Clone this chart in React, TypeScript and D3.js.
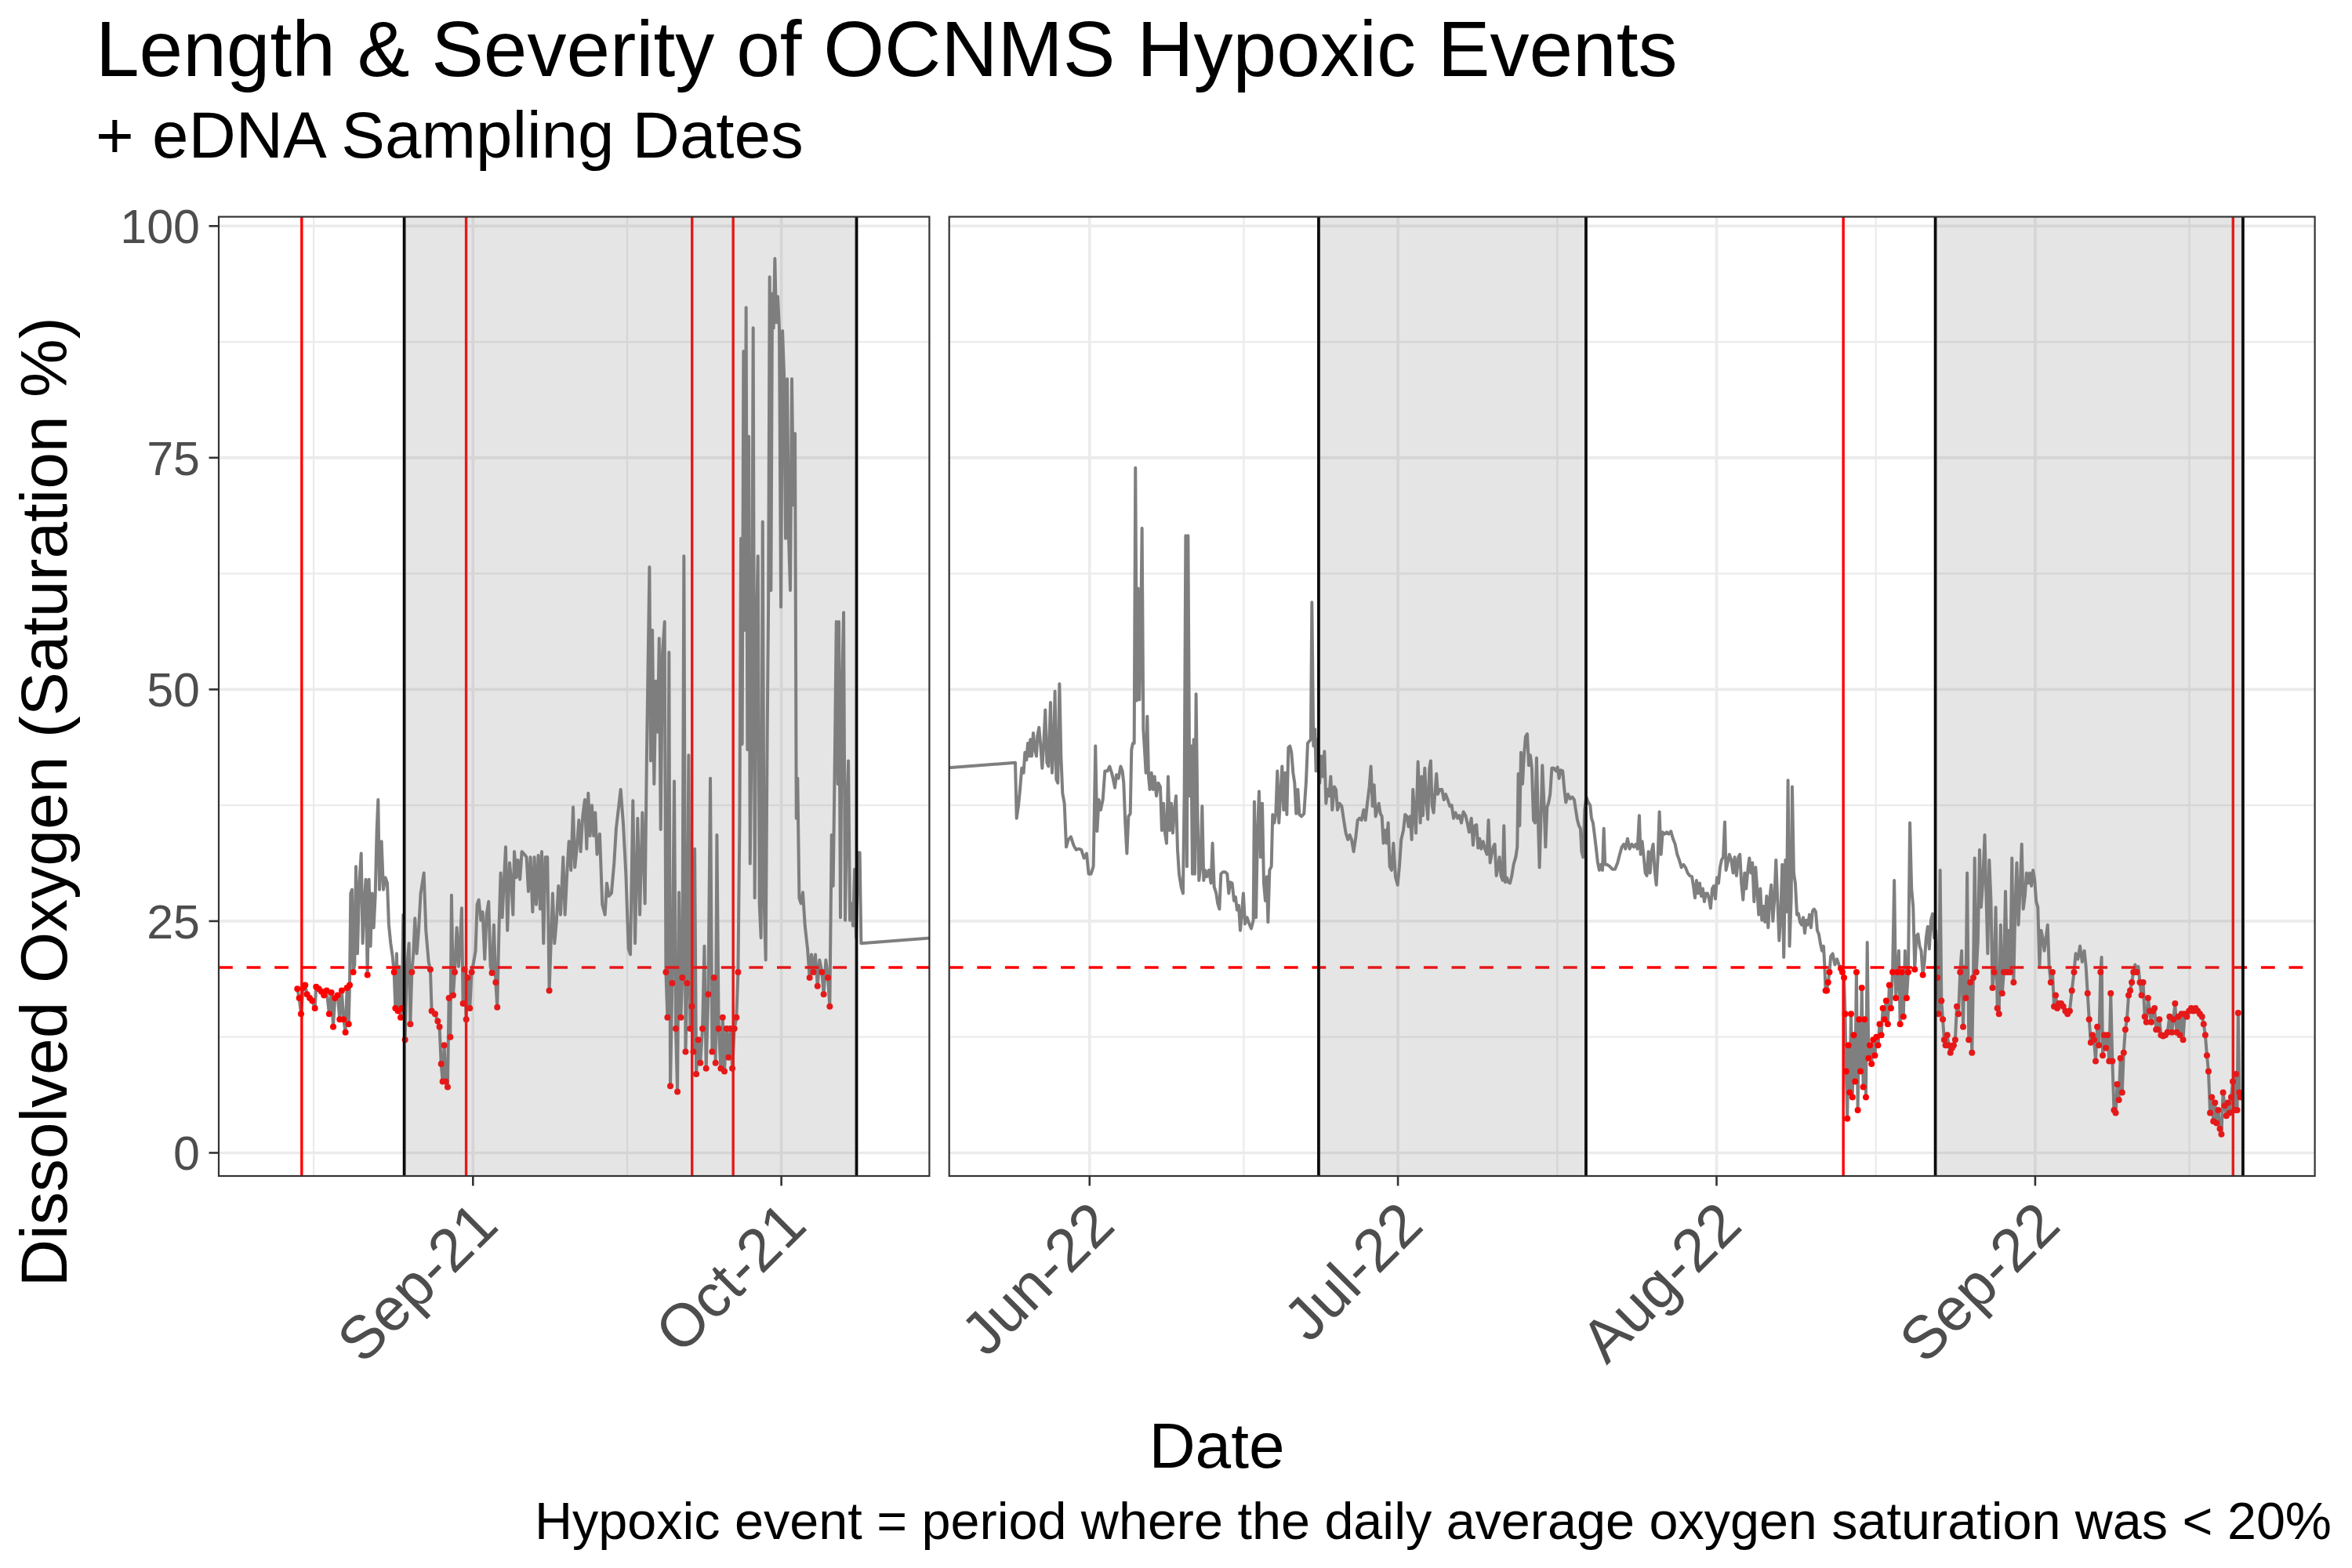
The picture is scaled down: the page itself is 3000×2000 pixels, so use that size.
import React, { FC, useEffect, useRef } from "react"
import { line, scaleLinear, scaleUtc, select, utcFormat, utcMonth } from "d3"

const DAY = 86400000
const origin2021 = Date.UTC(2021, 7, 1)
const origin2022 = Date.UTC(2022, 5, 1)

// dissolved oxygen, pairs of [days since 2021-08-01, saturation %]
const oxygen2021: number[] = [
  13.91, 17.7, 14.09, 16.7, 14.27, 15.0, 14.47, 17.8, 14.67, 18.1, 14.85, 17.1, 15.11, 16.7, 15.36, 16.4,
  15.62, 15.6, 15.74, 17.9, 16.0, 17.7, 16.25, 17.4, 16.5, 17.0, 16.76, 17.5, 17.01, 15.0, 17.22, 17.3,
  17.4, 13.6, 17.57, 16.7, 17.83, 17.0, 18.03, 14.4, 18.23, 17.5, 18.41, 14.4, 18.59, 13.0, 18.74, 17.8,
  18.9, 13.9, 19.0, 18.1, 19.1, 28.0, 19.23, 28.4, 19.35, 19.5, 19.48, 20.3, 19.61, 30.9, 19.76, 21.5,
  19.94, 29.1, 20.12, 32.3, 20.27, 22.6, 20.42, 26.8, 20.57, 29.5, 20.73, 19.2, 20.88, 29.5, 21.03, 22.3,
  21.18, 28.0, 21.34, 24.3, 21.49, 27.7, 21.64, 34.7, 21.77, 38.1, 21.9, 28.4, 22.1, 33.6, 22.28, 28.4,
  22.48, 29.7, 22.66, 29.1, 22.81, 24.6, 22.99, 22.6, 23.17, 21.2, 23.32, 19.5, 23.45, 15.6, 23.57, 21.5,
  23.7, 15.3, 23.83, 20.1, 23.96, 14.6, 24.08, 15.6, 24.21, 25.7, 24.39, 12.2, 24.57, 20.1, 24.77, 22.6,
  24.9, 13.9, 25.05, 19.5, 25.2, 21.5, 25.35, 25.3, 25.53, 21.5, 25.71, 24.0, 25.91, 28.0, 26.07, 29.1,
  26.22, 30.2, 26.42, 24.0, 26.68, 20.6, 26.85, 19.8, 26.98, 15.3, 27.31, 15.0, 27.57, 14.2, 27.74, 13.6,
  27.9, 9.6, 28.05, 7.7, 28.2, 11.6, 28.35, 7.7, 28.53, 7.1, 28.66, 16.7, 28.79, 12.5, 28.91, 27.8,
  29.07, 17.0, 29.22, 19.5, 29.42, 24.3, 29.6, 20.1, 29.78, 23.5, 29.9, 26.4, 30.03, 16.1, 30.18, 19.8,
  30.34, 14.4, 30.49, 18.9, 30.69, 15.6, 30.87, 19.5, 31.05, 20.5, 31.25, 21.8, 31.4, 26.8, 31.56, 27.3,
  31.76, 25.1, 31.94, 26.0, 32.14, 20.9, 32.32, 25.7, 32.52, 27.1, 32.7, 20.1, 32.85, 19.4, 33.03, 24.6,
  33.21, 18.4, 33.36, 15.7, 33.54, 24.6, 33.69, 30.2, 33.85, 25.4, 34.0, 29.1, 34.18, 33.0, 34.35, 24.0,
  34.56, 31.3, 34.74, 29.1, 34.89, 25.7, 35.02, 32.5, 35.22, 29.7, 35.37, 31.6, 35.57, 29.5, 35.75, 32.5,
  36.01, 32.2, 36.21, 31.9, 36.39, 28.2, 36.59, 31.9, 36.8, 26.0, 36.97, 31.9, 37.15, 26.8, 37.35, 32.1,
  37.53, 26.3, 37.69, 32.5, 37.86, 22.6, 38.04, 31.9, 38.24, 31.9, 38.42, 17.5, 38.57, 22.3, 38.75, 28.0,
  38.93, 22.6, 39.13, 25.1, 39.31, 28.8, 39.52, 25.7, 39.77, 31.9, 39.95, 25.7, 40.15, 30.2, 40.33, 33.6,
  40.53, 30.5, 40.74, 37.3, 40.91, 30.8, 41.09, 32.8, 41.3, 35.9, 41.47, 32.5, 41.68, 36.4, 41.88, 38.1,
  42.06, 32.8, 42.21, 38.8, 42.39, 34.2, 42.57, 37.5, 42.74, 34.2, 42.9, 36.7, 43.07, 32.2, 43.33, 34.4,
  43.58, 26.8, 43.84, 25.7, 44.02, 29.1, 44.22, 27.7, 44.47, 28.0, 44.73, 31.3, 44.93, 35.0, 45.37, 39.2,
  45.62, 35.5, 45.88, 30.0, 46.13, 22.0, 46.31, 21.4, 46.56, 38.0, 46.77, 22.6, 47.02, 36.1, 47.23, 25.7,
  47.48, 36.7, 47.73, 26.9, 47.91, 43.5, 48.17, 63.2, 48.29, 42.3, 48.45, 56.4, 48.62, 39.8, 48.8, 50.9,
  48.98, 45.4, 49.11, 55.5, 49.26, 34.9, 49.44, 54.0, 49.64, 57.3, 49.77, 19.5, 49.92, 14.6, 50.07, 54.0,
  50.2, 7.2, 50.38, 18.3, 50.58, 40.1, 50.73, 13.4, 50.89, 6.6, 51.04, 28.1, 51.22, 14.6, 51.37, 18.9,
  51.52, 64.4, 51.68, 10.9, 51.83, 18.3, 51.98, 42.9, 52.13, 13.4, 52.29, 15.8, 52.44, 10.9, 52.57, 32.8,
  52.72, 8.5, 52.92, 12.2, 53.12, 9.7, 53.33, 13.4, 53.51, 22.3, 53.68, 9.1, 53.89, 17.1, 54.09, 40.4,
  54.27, 10.9, 54.45, 18.9, 54.6, 9.7, 54.73, 34.3, 54.9, 13.4, 55.11, 9.1, 55.29, 14.6, 55.46, 8.8,
  55.67, 13.4, 55.87, 10.3, 56.05, 13.4, 56.23, 9.1, 56.43, 13.4, 56.63, 14.6, 56.79, 19.5, 56.94, 35.5,
  57.07, 66.3, 57.19, 44.1, 57.32, 86.5, 57.45, 56.4, 57.57, 91.2, 57.7, 43.5, 57.83, 77.3, 57.96, 31.2,
  58.11, 45.4, 58.26, 89.0, 58.41, 27.5, 58.57, 56.4, 58.72, 64.4, 58.87, 26.9, 59.02, 23.2, 59.18, 68.1,
  59.33, 26.9, 59.48, 20.8, 59.63, 45.4, 59.74, 58.9, 59.86, 94.5, 59.99, 60.7, 60.12, 92.7, 60.24, 89.0,
  60.37, 96.5, 60.5, 89.6, 60.65, 92.4, 60.8, 89.0, 60.96, 58.9, 61.11, 88.7, 61.26, 84.1, 61.41, 66.3,
  61.57, 83.5, 61.72, 66.3, 61.87, 60.7, 62.02, 83.5, 62.18, 69.9, 62.33, 77.6, 62.46, 36.1, 62.58, 40.4,
  62.74, 27.5, 62.91, 26.9, 63.09, 28.1, 63.3, 24.5, 63.55, 22.0, 63.75, 18.9, 63.93, 21.4, 64.11, 19.5,
  64.31, 21.4, 64.52, 18.0, 64.72, 20.8, 64.95, 19.5, 65.12, 17.1, 65.33, 20.8, 65.53, 18.9, 65.71, 15.8,
  65.89, 34.3, 66.04, 28.8, 66.22, 44.1, 66.35, 57.3, 66.5, 39.8, 66.6, 57.3, 66.75, 25.4, 66.9, 50.3,
  67.06, 58.3, 67.21, 25.1, 67.36, 36.1, 67.52, 42.3, 67.67, 25.1, 67.82, 26.9, 67.97, 24.5, 68.13, 30.6,
  68.28, 23.2, 68.48, 32.4, 68.63, 32.4, 68.76, 22.6,
]

// dissolved oxygen, pairs of [days since 2022-06-01, saturation %]
const oxygen2022: number[] = [
  -7.23, 42.1, -7.1, 36.1, -6.93, 37.4, -6.77, 39.2, -6.6, 41.5, -6.42, 41.0, -6.29, 43.2, -6.14, 42.4,
  -6.01, 44.2, -5.88, 42.8, -5.76, 44.6, -5.63, 42.8, -5.48, 45.3, -5.32, 43.5, -5.17, 42.8, -5.07, 45.0,
  -4.92, 45.9, -4.76, 43.9, -4.61, 41.5, -4.46, 44.2, -4.31, 47.8, -4.15, 42.1, -4.0, 41.7, -3.8, 48.6,
  -3.65, 41.0, -3.49, 43.9, -3.37, 49.8, -3.24, 40.3, -3.09, 39.9, -2.93, 50.6, -2.78, 42.8, -2.63, 38.8,
  -2.45, 37.7, -2.27, 33.0, -2.07, 33.8, -1.82, 34.1, -1.56, 33.2, -1.31, 32.7, -1.05, 32.8, -0.8, 32.7,
  -0.54, 31.8, -0.29, 32.3, -0.09, 30.1, 0.14, 30.1, 0.37, 30.9, 0.57, 43.9, 0.73, 34.7, 0.9, 38.1,
  1.08, 37.0, 1.29, 38.1, 1.49, 41.2, 1.74, 41.2, 1.95, 41.7, 2.15, 41.0, 2.3, 40.3, 2.46, 39.4,
  2.61, 40.8, 2.81, 40.4, 3.02, 41.7, 3.19, 41.2, 3.32, 39.9, 3.47, 35.6, 3.63, 32.3, 3.78, 36.3,
  3.96, 36.6, 4.08, 43.5, 4.21, 44.2, 4.34, 44.2, 4.46, 73.9, 4.59, 48.8, 4.72, 60.9, 4.85, 48.9,
  4.97, 55.1, 5.1, 67.4, 5.23, 45.7, 5.35, 43.5, 5.48, 41.0, 5.61, 47.1, 5.74, 40.6, 5.86, 39.2,
  6.02, 41.0, 6.17, 39.2, 6.32, 40.6, 6.5, 38.5, 6.68, 39.9, 6.88, 39.5, 7.03, 34.8, 7.19, 37.7,
  7.34, 34.5, 7.49, 33.4, 7.64, 40.6, 7.8, 34.8, 7.95, 37.7, 8.1, 34.5, 8.25, 37.0, 8.41, 38.5,
  8.56, 32.7, 8.71, 30.1, 8.91, 28.7, 9.09, 28.0, 9.22, 38.8, 9.35, 66.6, 9.47, 30.9, 9.58, 66.6,
  9.73, 38.5, 9.88, 43.9, 10.01, 30.1, 10.13, 44.6, 10.24, 30.1, 10.36, 49.5, 10.49, 37.4, 10.64, 29.4,
  10.8, 30.9, 10.95, 37.4, 11.1, 29.4, 11.25, 30.5, 11.41, 29.8, 11.61, 30.5, 11.81, 29.1, 11.96, 33.4,
  12.12, 28.7, 12.32, 28.0, 12.47, 26.9, 12.63, 26.3, 12.78, 30.1, 12.98, 30.3, 13.19, 30.3, 13.39, 30.1,
  13.54, 28.0, 13.69, 29.2, 13.87, 29.1, 14.05, 27.2, 14.2, 27.6, 14.35, 26.2, 14.51, 26.7, 14.66, 24.0,
  14.81, 25.8, 14.96, 28.0, 15.12, 24.7, 15.32, 25.4, 15.53, 24.7, 15.73, 24.2, 15.93, 25.1, 16.03, 37.9,
  16.19, 25.4, 16.34, 34.5, 16.49, 39.0, 16.64, 31.9, 16.8, 37.7, 16.95, 29.1, 17.1, 27.2, 17.25, 29.8,
  17.36, 24.9, 17.51, 30.5, 17.69, 30.9, 17.81, 36.5, 17.97, 35.6, 18.12, 36.6, 18.27, 41.2, 18.42, 35.6,
  18.58, 38.8, 18.73, 41.7, 18.88, 37.0, 19.03, 41.0, 19.19, 36.5, 19.34, 43.7, 19.49, 43.9, 19.64, 43.2,
  19.8, 41.0, 19.95, 39.9, 20.1, 36.6, 20.26, 39.2, 20.41, 36.5, 20.61, 36.3, 20.86, 36.6, 21.07, 40.1,
  21.22, 44.2, 21.37, 44.4, 21.52, 44.6, 21.63, 59.4, 21.78, 43.9, 21.93, 45.7, 22.03, 41.2, 22.19, 44.6,
  22.39, 39.9, 22.54, 42.8, 22.7, 40.6, 22.85, 43.3, 23.0, 37.7, 23.15, 39.2, 23.31, 38.5, 23.46, 40.6,
  23.61, 37.0, 23.81, 39.5, 23.97, 39.2, 24.12, 37.0, 24.32, 37.7, 24.53, 37.4, 24.73, 35.9, 24.93, 34.5,
  25.13, 33.8, 25.31, 34.3, 25.49, 33.8, 25.69, 32.5, 25.9, 34.1, 26.08, 35.9, 26.26, 36.1, 26.46, 35.9,
  26.66, 37.0, 26.84, 35.9, 27.02, 37.7, 27.22, 39.5, 27.37, 41.7, 27.53, 37.4, 27.68, 39.7, 27.83, 36.3,
  27.98, 37.0, 28.14, 37.7, 28.29, 36.6, 28.44, 36.3, 28.59, 33.4, 28.75, 34.8, 28.9, 33.4, 29.05, 35.6,
  29.2, 30.9, 29.38, 30.5, 29.56, 33.4, 29.76, 29.8, 29.97, 28.9, 30.14, 30.9, 30.32, 33.8, 30.53, 34.8,
  30.7, 36.5, 30.88, 36.3, 31.03, 35.2, 31.19, 36.3, 31.34, 33.8, 31.46, 39.2, 31.59, 37.0, 31.75, 34.5,
  31.95, 42.2, 32.18, 35.6, 32.3, 40.6, 32.43, 36.4, 32.61, 41.5, 32.76, 38.1, 32.91, 36.0, 33.07, 41.5,
  33.19, 42.3, 33.32, 37.5, 33.47, 36.7, 33.63, 39.2, 33.75, 40.9, 33.88, 38.7, 34.08, 39.2, 34.29, 39.2,
  34.47, 38.1, 34.64, 38.7, 34.85, 38.1, 35.05, 37.4, 35.23, 37.5, 35.41, 36.1, 35.61, 36.7, 35.81, 36.1,
  35.99, 36.4, 36.17, 35.6, 36.37, 36.8, 36.58, 36.4, 36.75, 35.6, 36.93, 34.6, 37.14, 36.1, 37.31, 33.2,
  37.47, 35.3, 37.64, 35.4, 37.8, 32.9, 37.95, 33.9, 38.1, 32.8, 38.28, 33.6, 38.46, 32.8, 38.66, 32.2,
  38.81, 35.9, 38.97, 31.3, 39.12, 32.2, 39.27, 33.0, 39.42, 33.3, 39.58, 29.9, 39.73, 30.8, 39.88, 31.9,
  40.03, 29.9, 40.19, 29.4, 40.31, 35.3, 40.44, 29.2, 40.59, 29.7, 40.75, 29.2, 40.9, 29.1, 41.08, 29.9,
  41.25, 31.1, 41.46, 31.9, 41.61, 33.0, 41.71, 40.9, 41.84, 35.3, 41.97, 43.2, 42.12, 39.8, 42.27, 42.9,
  42.42, 44.9, 42.58, 45.2, 42.73, 41.8, 42.88, 42.9, 43.03, 41.5, 43.19, 35.9, 43.34, 35.6, 43.49, 42.6,
  43.64, 35.9, 43.77, 30.8, 43.9, 35.6, 44.05, 41.8, 44.2, 38.1, 44.36, 33.0, 44.51, 37.3, 44.66, 37.8,
  44.81, 38.7, 44.97, 41.5, 45.17, 41.5, 45.37, 41.2, 45.53, 41.6, 45.68, 40.4, 45.83, 41.3, 46.03, 41.2,
  46.19, 39.2, 46.34, 37.8, 46.54, 38.7, 46.75, 38.2, 46.95, 38.4, 47.15, 38.1, 47.3, 37.0, 47.46, 35.9,
  47.61, 35.3, 47.76, 35.0, 47.87, 32.5, 48.02, 31.9, 48.17, 37.0, 48.32, 38.4, 48.53, 37.8, 48.7, 37.5,
  48.83, 36.1, 48.98, 35.6, 49.14, 34.2, 49.29, 32.8, 49.44, 31.3, 49.59, 30.5, 49.75, 31.1, 49.9, 30.5,
  50.03, 35.0, 50.15, 31.1, 50.36, 31.1, 50.61, 30.9, 50.86, 30.6, 51.12, 30.6, 51.37, 31.3, 51.58, 32.2,
  51.78, 33.0, 51.98, 33.3, 52.14, 32.8, 52.34, 33.9, 52.54, 32.8, 52.75, 33.3, 52.95, 33.0, 53.15, 33.3,
  53.31, 32.8, 53.48, 36.4, 53.61, 32.2, 53.76, 33.6, 53.92, 31.9, 54.07, 30.2, 54.22, 29.9, 54.37, 32.5,
  54.53, 30.2, 54.68, 32.5, 54.83, 33.3, 54.98, 30.5, 55.14, 28.9, 55.29, 31.9, 55.44, 36.8, 55.6, 32.2,
  55.75, 34.6, 55.95, 34.4, 56.15, 34.6, 56.36, 34.4, 56.56, 34.7, 56.76, 33.9, 56.97, 33.3, 57.17, 32.2,
  57.37, 31.6, 57.58, 30.8, 57.78, 31.1, 57.98, 30.8, 58.19, 30.2, 58.39, 29.9, 58.6, 29.8, 58.75, 28.8,
  58.9, 27.5, 59.05, 29.4, 59.21, 28.0, 59.36, 29.1, 59.51, 27.7, 59.66, 28.5, 59.81, 27.1, 59.97, 28.0,
  60.12, 28.0, 60.27, 27.4, 60.42, 26.4, 60.58, 28.5, 60.73, 28.8, 60.88, 27.4, 61.04, 29.7, 61.19, 29.1,
  61.34, 30.8, 61.49, 31.6, 61.65, 31.9, 61.8, 35.7, 61.92, 30.5, 62.08, 31.3, 62.25, 32.2, 62.43, 31.6,
  62.61, 30.2, 62.76, 31.9, 62.94, 29.9, 63.12, 31.9, 63.27, 32.2, 63.42, 29.1, 63.58, 27.3, 63.73, 30.2,
  63.88, 28.5, 64.04, 30.5, 64.19, 31.8, 64.34, 30.2, 64.49, 31.3, 64.65, 27.1, 64.8, 30.8, 64.95, 28.5,
  65.1, 25.7, 65.26, 28.5, 65.41, 25.1, 65.56, 26.6, 65.71, 24.9, 65.87, 27.7, 66.02, 24.3, 66.17, 27.4,
  66.32, 28.9, 66.48, 25.0, 66.63, 27.4, 66.78, 31.6, 66.93, 27.4, 67.09, 22.9, 67.24, 25.7, 67.39, 31.1,
  67.54, 21.1, 67.7, 31.6, 67.82, 26.0, 67.95, 40.2, 68.1, 22.3, 68.26, 27.4, 68.36, 39.5, 68.51, 30.2,
  68.66, 29.1, 68.82, 25.7, 68.97, 25.8, 69.12, 24.9, 69.27, 24.6, 69.43, 25.4, 69.58, 23.7, 69.73, 25.1,
  69.89, 24.6, 70.04, 25.7, 70.19, 24.3, 70.34, 26.1, 70.49, 26.3, 70.65, 26.0, 70.8, 24.0, 70.95, 23.6,
  71.1, 22.6, 71.26, 21.8, 71.41, 22.3, 71.51, 20.3, 71.61, 17.5, 71.72, 17.5, 71.85, 18.4, 71.98, 19.5,
  72.11, 21.2, 72.3, 21.5, 72.51, 20.3, 72.72, 20.9, 72.9, 20.3, 73.09, 19.9, 73.24, 19.5, 73.4, 18.9,
  73.51, 15.0, 73.61, 8.8, 73.72, 3.7, 73.82, 11.6, 73.95, 6.5, 74.08, 15.0, 74.22, 6.0, 74.35, 12.7,
  74.48, 7.7, 74.61, 19.5, 74.74, 4.6, 74.87, 14.4, 75.0, 8.8, 75.13, 17.8, 75.27, 7.1, 75.4, 14.4,
  75.53, 6.0, 75.66, 22.7, 75.79, 10.2, 75.92, 11.6, 76.08, 9.6, 76.24, 12.2, 76.4, 10.5, 76.55, 12.5,
  76.71, 11.6, 76.87, 13.9, 77.03, 12.7, 77.18, 15.6, 77.34, 14.4, 77.5, 16.4, 77.66, 13.9, 77.81, 18.1,
  77.97, 15.6, 78.13, 19.5, 78.29, 29.4, 78.44, 16.7, 78.6, 19.5, 78.73, 21.8, 78.86, 13.9, 79.02, 19.5,
  79.18, 14.7, 79.34, 21.8, 79.49, 16.7, 79.65, 19.5, 79.81, 35.6, 79.97, 28.5, 80.13, 26.5, 80.28, 19.8,
  80.44, 23.4, 80.6, 23.6, 80.76, 22.3, 80.91, 21.8, 81.07, 19.2, 81.23, 20.6, 81.39, 23.2, 81.54, 24.4,
  81.7, 22.0, 81.86, 25.1, 82.02, 25.8, 82.17, 23.2, 82.33, 24.0, 82.49, 18.9, 82.62, 15.0, 82.75, 30.5,
  82.88, 16.4, 83.01, 14.4, 83.15, 12.2, 83.28, 11.6, 83.44, 12.7, 83.59, 11.6, 83.75, 10.8, 83.91, 11.3,
  84.07, 11.6, 84.22, 12.2, 84.38, 15.8, 84.54, 15.0, 84.7, 19.5, 84.85, 21.8, 84.99, 13.6, 85.12, 20.1,
  85.25, 16.7, 85.38, 30.2, 85.54, 12.2, 85.69, 18.4, 85.85, 10.8, 85.98, 18.9, 86.11, 31.8, 86.27, 19.5,
  86.43, 22.9, 86.59, 32.7, 86.74, 26.5, 86.9, 29.1, 87.09, 34.3, 87.22, 28.5, 87.38, 21.5, 87.53, 31.6,
  87.69, 27.4, 87.85, 17.8, 88.01, 19.5, 88.16, 26.5, 88.32, 15.6, 88.48, 15.0, 88.64, 24.6, 88.79, 17.2,
  88.95, 19.5, 89.11, 28.2, 89.27, 19.5, 89.42, 24.0, 89.58, 19.5, 89.74, 31.8, 89.9, 18.4, 90.05, 26.3,
  90.21, 31.3, 90.37, 24.6, 90.53, 28.5, 90.69, 33.3, 90.84, 26.3, 91.0, 27.7, 91.16, 30.2, 91.32, 29.1,
  91.47, 30.2, 91.63, 28.8, 91.79, 30.5, 91.95, 29.4, 92.1, 27.1, 92.26, 26.5, 92.42, 20.1, 92.58, 24.0,
  92.73, 23.2, 92.89, 21.8, 93.05, 23.2, 93.21, 24.6, 93.36, 20.1, 93.52, 18.4, 93.68, 19.5, 93.84, 15.8,
  93.99, 17.0, 94.15, 15.6, 94.31, 16.1, 94.52, 16.1, 94.73, 15.8, 94.94, 15.3, 95.15, 15.0, 95.36, 15.3,
  95.57, 17.5, 95.78, 19.5, 95.94, 21.5, 96.15, 20.9, 96.36, 22.3, 96.57, 20.6, 96.78, 21.8, 96.94, 20.1,
  97.1, 17.2, 97.25, 14.4, 97.41, 11.9, 97.57, 12.7, 97.73, 12.2, 97.88, 9.9, 98.04, 13.6, 98.2, 11.6,
  98.36, 19.5, 98.46, 21.1, 98.57, 10.5, 98.72, 12.7, 98.88, 11.3, 99.04, 12.7, 99.2, 9.9, 99.35, 17.2,
  99.51, 9.9, 99.67, 4.6, 99.83, 4.3, 99.98, 7.4, 100.14, 5.7, 100.3, 10.2, 100.46, 6.5, 100.61, 10.8,
  100.77, 13.3, 100.93, 14.4, 101.09, 17.0, 101.24, 17.5, 101.4, 18.4, 101.56, 19.5, 101.72, 20.3, 101.87, 19.5,
  102.03, 20.1, 102.19, 18.4, 102.35, 17.0, 102.5, 18.4, 102.66, 14.7, 102.82, 14.1, 102.98, 16.7, 103.14, 15.3,
  103.29, 14.1, 103.45, 15.3, 103.61, 15.6, 103.77, 13.3, 103.92, 13.3, 104.08, 14.4, 104.24, 12.7, 104.45, 12.6,
  104.66, 12.7, 104.87, 13.0, 105.08, 14.7, 105.29, 13.0, 105.45, 14.4, 105.61, 16.1, 105.76, 13.0, 105.92, 14.7,
  106.08, 12.7, 106.24, 15.0, 106.39, 12.2, 106.55, 15.0, 106.76, 14.7, 106.97, 15.3, 107.18, 15.6, 107.39, 15.3,
  107.6, 15.6, 107.81, 15.3, 108.02, 15.0, 108.23, 14.7, 108.39, 13.9, 108.55, 12.7, 108.71, 10.5, 108.86, 8.8,
  109.02, 4.3, 109.18, 6.0, 109.34, 3.4, 109.49, 5.4, 109.65, 3.2, 109.81, 4.6, 109.97, 2.6, 110.12, 2.0,
  110.28, 6.5, 110.44, 5.1, 110.6, 4.0, 110.75, 5.4, 110.91, 4.3, 111.07, 6.0, 111.23, 7.7, 111.38, 4.6,
  111.54, 8.5, 111.65, 4.6, 111.75, 15.1, 111.86, 6.5, 111.96, 6.0,
]

const hypoxicThreshold = 20
const hypoxicEventDates = [
  "2021-08-15T08:00Z",
  "2021-08-31T08:00Z",
  "2021-09-22T07:30Z",
  "2021-09-26T07:30Z",
  "2022-08-13T08:00Z",
  "2022-09-20T06:00Z",
]
const samplingDates = [
  "2021-08-25T07:30Z",
  "2021-10-08T07:30Z",
  "2022-06-23T07:00Z",
  "2022-07-19T07:00Z",
  "2022-08-22T07:00Z",
  "2022-09-21T05:00Z",
]
const samplingWindows = [
  [samplingDates[0], samplingDates[1]],
  [samplingDates[2], samplingDates[3]],
  [samplingDates[4], samplingDates[5]],
]
const panelDomains = [
  ["2021-08-07T06:17Z", "2021-10-15T09:36Z"],
  ["2022-05-18T08:10Z", "2022-09-28T05:00Z"],
]
const yTicks = [0, 25, 50, 75, 100]

const title = "Length & Severity of OCNMS Hypoxic Events"
const subtitle = "+ eDNA Sampling Dates"
const xTitle = "Date"
const yTitle = "Dissolved Oxygen (Saturation %)"
const caption = "Hypoxic event = period where the daily average oxygen saturation was < 20%"

type D = { date: Date; value: number }

const toSeries = (flat: number[], origin: number): D[] => {
  const out: D[] = []
  for (let i = 0; i < flat.length; i += 2) {
    out.push({ date: new Date(origin + flat[i] * DAY), value: flat[i + 1] })
  }
  return out
}

const App: FC = () => {
  const ref = useRef<HTMLDivElement>(null)

  useEffect(() => {
    const element = ref.current
    if (!element) return
    element.innerHTML = ""
    document.body.style.margin = "0"

    const width = 3000
    const height = 2000
    const font = "'Liberation Sans', Arial, Helvetica, sans-serif"
    const panelTop = 276.5
    const panelBottom = 1500
    const panelRanges = [
      [279, 1185.4],
      [1210.7, 2952.6],
    ]

    const data = [
      ...toSeries(oxygen2021, origin2021),
      ...toSeries(oxygen2022, origin2022),
    ]

    const svg = select(element)
      .append("svg")
      .attr("width", width)
      .attr("height", height)
      .style("display", "block")
      .style("font-family", font)

    svg.append("rect").attr("width", width).attr("height", height).attr("fill", "white")

    const yScale = scaleLinear().domain([-2.5, 101]).range([panelBottom, panelTop])
    const yMinor = yTicks.slice(1).map((t, i) => (t + yTicks[i]) / 2)
    const fmt = utcFormat("%b-%y")

    panelDomains.forEach((dom, p) => {
      const [x0, x1] = panelRanges[p]
      const d0 = new Date(dom[0])
      const d1 = new Date(dom[1])
      const xScale = scaleUtc().domain([d0, d1]).range([x0, x1])
      const inside = (d: Date) => d >= d0 && d <= d1

      const clipId = `clip-${p}`
      svg
        .append("clipPath")
        .attr("id", clipId)
        .append("rect")
        .attr("x", x0)
        .attr("y", panelTop)
        .attr("width", x1 - x0)
        .attr("height", panelBottom - panelTop)

      const g = svg.append("g").attr("clip-path", `url(#${clipId})`)

      // month breaks and the minor lines half way between them
      const months = utcMonth.range(utcMonth.offset(utcMonth.floor(d0), -1), utcMonth.offset(d1, 1))
      const majorX = months.filter(inside)
      const minorX = months
        .slice(1)
        .map((m, i) => new Date((m.getTime() + months[i].getTime()) / 2))
        .filter(inside)

      // grid
      g.selectAll(".minor-y")
        .data(yMinor)
        .join("line")
        .attr("x1", x0)
        .attr("x2", x1)
        .attr("y1", (d) => yScale(d))
        .attr("y2", (d) => yScale(d))
        .attr("stroke", "#ebebeb")
        .attr("stroke-width", 2.2)
      g.selectAll(".minor-x")
        .data(minorX)
        .join("line")
        .attr("x1", (d) => xScale(d))
        .attr("x2", (d) => xScale(d))
        .attr("y1", panelTop)
        .attr("y2", panelBottom)
        .attr("stroke", "#ebebeb")
        .attr("stroke-width", 2.2)
      g.selectAll(".major-y")
        .data(yTicks)
        .join("line")
        .attr("x1", x0)
        .attr("x2", x1)
        .attr("y1", (d) => yScale(d))
        .attr("y2", (d) => yScale(d))
        .attr("stroke", "#ebebeb")
        .attr("stroke-width", 3.6)
      g.selectAll(".major-x")
        .data(majorX)
        .join("line")
        .attr("x1", (d) => xScale(d))
        .attr("x2", (d) => xScale(d))
        .attr("y1", panelTop)
        .attr("y2", panelBottom)
        .attr("stroke", "#ebebeb")
        .attr("stroke-width", 3.6)

      // oxygen series
      const path = line<D>()
        .x((d) => xScale(d.date))
        .y((d) => yScale(d.value))
      g.append("path")
        .datum(data)
        .attr("d", path)
        .attr("fill", "none")
        .attr("stroke", "#7f7f7f")
        .attr("stroke-width", 4)
        .attr("stroke-linejoin", "round")

      g.selectAll(".hypoxic")
        .data(data.filter((d) => d.value < hypoxicThreshold && inside(d.date)))
        .join("circle")
        .attr("cx", (d) => xScale(d.date))
        .attr("cy", (d) => yScale(d.value))
        .attr("r", 4)
        .attr("fill", "red")

      // 20% threshold
      g.append("line")
        .attr("x1", x0)
        .attr("x2", x1)
        .attr("y1", yScale(hypoxicThreshold))
        .attr("y2", yScale(hypoxicThreshold))
        .attr("stroke", "red")
        .attr("stroke-width", 3.4)
        .attr("stroke-dasharray", "17.8 17.8")

      // event & sampling lines
      g.selectAll(".event")
        .data(hypoxicEventDates.map((s) => new Date(s)).filter(inside))
        .join("line")
        .attr("x1", (d) => xScale(d))
        .attr("x2", (d) => xScale(d))
        .attr("y1", panelTop)
        .attr("y2", panelBottom)
        .attr("stroke", "red")
        .attr("stroke-width", 3.4)
      g.selectAll(".sampling")
        .data(samplingDates.map((s) => new Date(s)).filter(inside))
        .join("line")
        .attr("x1", (d) => xScale(d))
        .attr("x2", (d) => xScale(d))
        .attr("y1", panelTop)
        .attr("y2", panelBottom)
        .attr("stroke", "black")
        .attr("stroke-width", 3.8)

      g.selectAll(".window")
        .data(samplingWindows.map(([a, b]) => [new Date(a), new Date(b)]))
        .join("rect")
        .attr("x", (d) => xScale(d[0]))
        .attr("width", (d) => xScale(d[1]) - xScale(d[0]))
        .attr("y", panelTop)
        .attr("height", panelBottom - panelTop)
        .attr("fill", "#7f7f7f")
        .attr("fill-opacity", 0.2)

      // border
      svg
        .append("rect")
        .attr("x", x0)
        .attr("y", panelTop)
        .attr("width", x1 - x0)
        .attr("height", panelBottom - panelTop)
        .attr("fill", "none")
        .attr("stroke", "#333333")
        .attr("stroke-width", 2.2)

      // x axis
      svg
        .selectAll(`.xtick-${p}`)
        .data(majorX)
        .join("line")
        .attr("x1", (d) => xScale(d))
        .attr("x2", (d) => xScale(d))
        .attr("y1", panelBottom)
        .attr("y2", panelBottom + 12.5)
        .attr("stroke", "#333333")
        .attr("stroke-width", 2.6)
      svg
        .selectAll(`.xlabel-${p}`)
        .data(majorX)
        .join("text")
        .attr("transform", (d) => `translate(${xScale(d) - 4},${1527}) rotate(-45)`)
        .attr("dy", "0.72em")
        .attr("text-anchor", "end")
        .attr("font-size", 77)
        .attr("fill", "#4d4d4d")
        .text((d) => fmt(d))
    })

    // y axis
    const [yx0] = panelRanges[0]
    svg
      .selectAll(".ytick")
      .data(yTicks)
      .join("line")
      .attr("x1", yx0 - 12.5)
      .attr("x2", yx0)
      .attr("y1", (d) => yScale(d))
      .attr("y2", (d) => yScale(d))
      .attr("stroke", "#333333")
      .attr("stroke-width", 2.6)
    svg
      .selectAll(".ylabel")
      .data(yTicks)
      .join("text")
      .attr("x", 255)
      .attr("y", (d) => yScale(d) + 22)
      .attr("text-anchor", "end")
      .attr("font-size", 61)
      .attr("fill", "#4d4d4d")
      .text((d) => String(d))

    // titles
    svg.append("text").attr("x", 122).attr("y", 97).attr("font-size", 100).attr("fill", "black").text(title)
    svg.append("text").attr("x", 122).attr("y", 201).attr("font-size", 83.5).attr("fill", "black").text(subtitle)
    svg
      .append("text")
      .attr("x", 1552)
      .attr("y", 1872)
      .attr("text-anchor", "middle")
      .attr("font-size", 82)
      .attr("fill", "black")
      .text(xTitle)
    svg
      .append("text")
      .attr("transform", "translate(85,1023) rotate(-90)")
      .attr("text-anchor", "middle")
      .attr("font-size", 84)
      .attr("fill", "black")
      .text(yTitle)
    svg
      .append("text")
      .attr("x", 2974)
      .attr("y", 1963)
      .attr("text-anchor", "end")
      .attr("font-size", 66.5)
      .attr("fill", "black")
      .text(caption)
  }, [])

  return <div ref={ref} />
}

export default App
